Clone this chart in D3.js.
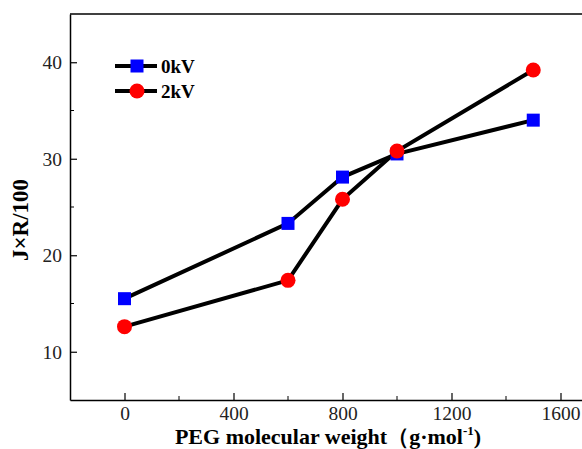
<!DOCTYPE html>
<html>
<head>
<meta charset="utf-8">
<script src="https://cdn.jsdelivr.net/npm/d3@7"></script>
<style>
  body { margin: 0; background: #fff; }
  text { font-family: "Liberation Serif", "Times New Roman", serif; }
</style>
</head>
<body>
<script>
var pegWeight = [0, 600, 800, 1000, 1500];
var kv0 = [15.5, 23.3, 28.1, 30.5, 34.0];
var kv2 = [12.6, 17.4, 25.8, 30.8, 39.2];
var xTicks = [0, 400, 800, 1200, 1600];
var yTicks = [10, 20, 30, 40];
var seriesNames = ["0kV", "2kV"];

var margin = { top: 14, left: 70, right: 0, bottom: 49 },
    width = 582 - margin.left - margin.right,
    height = 449 - margin.top - margin.bottom;

var svg = d3.select("body").append("svg")
    .attr("width", 582)
    .attr("height", 449);

var g = svg.append("g")
    .attr("transform", "translate(" + margin.left + "," + margin.top + ")");

// 109px per 400 units, left edge at -200
var x = d3.scaleLinear().domain([-200, -200 + width / 109 * 400]).range([0, width]);
var y = d3.scaleLinear().domain([5, 45]).range([height, 0]);

// frame
g.append("line").attr("x1", 0).attr("x2", width).attr("y1", 0).attr("y2", 0)
    .attr("stroke", "#000").attr("stroke-width", 1.5);

var xAxis = g.append("g")
    .attr("transform", "translate(0," + height + ")")
    .call(d3.axisBottom(x).tickValues(xTicks).tickFormat(d3.format("d"))
        .tickSizeInner(-7).tickSizeOuter(0).tickPadding(6));
xAxis.append("g").selectAll("line")
    .data([200, 600, 1000, 1400])
    .enter().append("line")
    .attr("x1", d => x(d)).attr("x2", d => x(d))
    .attr("y1", 0).attr("y2", -4)
    .attr("stroke", "#000");

var yAxis = g.append("g")
    .call(d3.axisLeft(y).tickValues(yTicks).tickSizeInner(-7).tickSizeOuter(0).tickPadding(8));
yAxis.append("g").selectAll("line")
    .data([15, 25, 35])
    .enter().append("line")
    .attr("y1", d => y(d)).attr("y2", d => y(d))
    .attr("x1", 0).attr("x2", 4)
    .attr("stroke", "#000");

[xAxis, yAxis].forEach(function(a) {
    a.select(".domain").attr("stroke-width", 1.5);
    a.selectAll(".tick line").attr("stroke-width", 1.2);
    a.selectAll("text")
        .style("font-family", "Liberation Serif, serif")
        .style("font-size", "19.5px")
        .attr("fill", "#222");
});

var line = d3.line()
    .x(function(d, i) { return x(pegWeight[i]); })
    .y(function(d) { return y(d); });

g.append("path").datum(kv0).attr("d", line)
    .attr("fill", "none").attr("stroke", "#000").attr("stroke-width", 4);
g.append("path").datum(kv2).attr("d", line)
    .attr("fill", "none").attr("stroke", "#000").attr("stroke-width", 4);

g.selectAll(".sq").data(kv0).enter().append("rect")
    .attr("class", "sq")
    .attr("x", function(d, i) { return x(pegWeight[i]) - 6.5; })
    .attr("y", function(d) { return y(d) - 6.5; })
    .attr("width", 13).attr("height", 13)
    .attr("fill", "#0000ff");

g.selectAll(".dot").data(kv2).enter().append("circle")
    .attr("class", "dot")
    .attr("cx", function(d, i) { return x(pegWeight[i]); })
    .attr("cy", function(d) { return y(d); })
    .attr("r", 7.5)
    .attr("fill", "#ff0000");

// legend
var legend = svg.append("g");
seriesNames.forEach(function(name, i) {
    var ly = 66 + i * 25;
    legend.append("line").attr("x1", 115).attr("x2", 157).attr("y1", ly).attr("y2", ly)
        .attr("stroke", "#000").attr("stroke-width", 4);
    if (i === 0) {
        legend.append("rect").attr("x", 137 - 6.5).attr("y", ly - 6.5)
            .attr("width", 13).attr("height", 13).attr("fill", "#0000ff");
    } else {
        legend.append("circle").attr("cx", 137).attr("cy", ly).attr("r", 7.5)
            .attr("fill", "#ff0000");
    }
    legend.append("text").attr("x", 161).attr("y", ly + 7)
        .style("font-size", "19px").style("font-weight", "bold")
        .text(name);
});

// axis titles
svg.append("text")
    .attr("transform", "translate(28,220) rotate(-90)")
    .attr("text-anchor", "middle")
    .style("font-size", "23px").style("font-weight", "bold")
    .text("J×R/100");

var xl = svg.append("text")
    .attr("x", 328).attr("y", 444)
    .attr("text-anchor", "middle")
    .style("font-size", "22px").style("font-weight", "bold");
xl.append("tspan").text("PEG molecular weight（g·mol");
xl.append("tspan").attr("dy", -9).style("font-size", "13px").text("-1");
xl.append("tspan").attr("dy", 9).text(")");
</script>
</body>
</html>
